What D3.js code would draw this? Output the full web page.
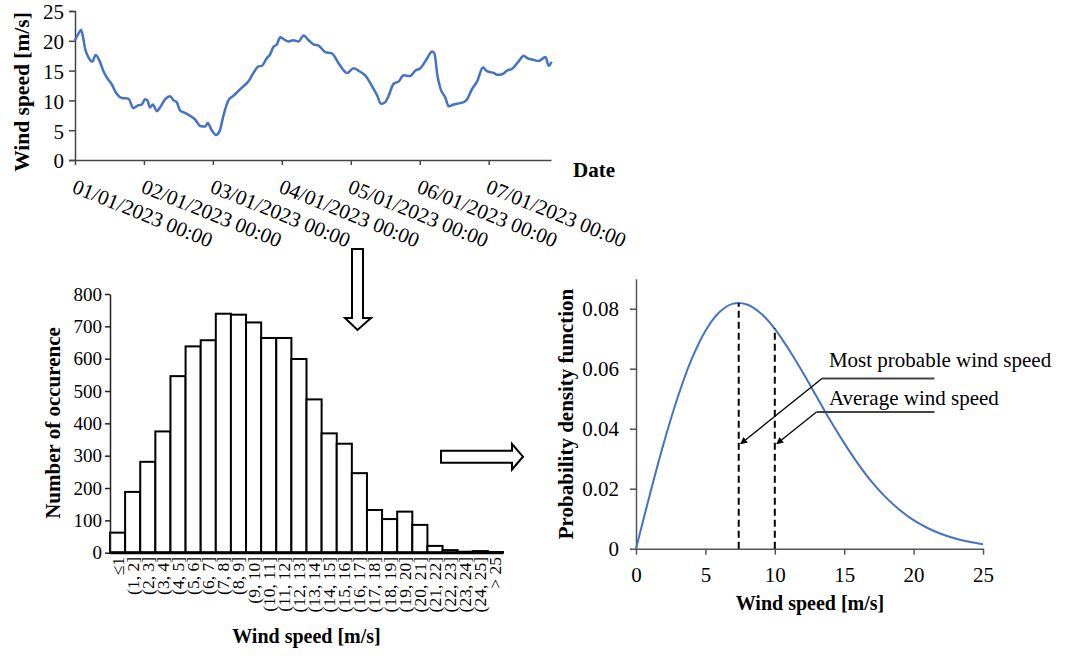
<!DOCTYPE html>
<html>
<head>
<meta charset="utf-8">
<script src="https://cdnjs.cloudflare.com/ajax/libs/d3/7.8.5/d3.min.js"></script>
<style>
body { margin: 0; background: #fff; }
svg { display: block; font-family: "Liberation Serif", "Times New Roman", serif; }
</style>
</head>
<body>
<script>
// time series: hours after 01/01/2023 00:00 and wind speed [m/s]
var windHours = [0,1.2,2.1,2.7,3.5,4.6,6.0,7.2,8.4,9.9,11.0,12.8,14.5,16.3,18.6,20.3,22.1,23.2,24.4,25.2,
  26.1,27.1,28.5,29.6,31.4,33.1,34.3,35.4,36.6,38.3,40.7,41.8,43.6,45.3,46.2,47.6,49.1,50.3,51.7,53.4,
  55.2,56.9,58.7,60.4,62.1,63.9,65.0,66.8,67.9,69.1,70.3,71.4,72.6,74.3,76.1,77.8,79.6,81.3,83.0,84.8,
  87.1,89.4,91.8,94.7,97.0,99.3,101.0,103.4,105.1,106.6,108.0,109.2,110.9,112.7,114.4,116.7,118.5,120.2,122.5,124.3,
  125.1,126.2,127.2,128.9,130.1,131.8,133.6,135.3,136.5,138.2,140.0,142.0,143.4,145.8,146.9,148.7,150.4,152.2,154.5,156.2,
  157.4,159.7,161.4,163.8,164.9,165.9];
var windSpeed = [20.1,21.2,21.8,20.9,18.7,17.3,16.5,17.6,16.8,14.9,13.9,12.7,11.1,10.4,10.3,8.7,9.2,9.3,10.2,10.0,
  8.8,9.3,8.2,8.8,10.2,10.7,10.0,9.7,8.3,7.9,7.2,6.8,5.7,5.6,6.2,5.0,4.2,4.8,7.5,10.0,
  10.8,11.6,12.4,13.2,14.6,15.7,15.8,17.1,17.7,19.0,19.4,20.6,20.3,19.9,20.1,19.9,20.9,20.1,19.4,19.2,
  18.1,17.9,16.2,14.6,15.4,14.8,14.2,12.4,10.9,9.4,9.7,10.8,12.8,13.2,14.2,14.1,15.0,15.4,17.0,18.2,
  17.9,14.1,12.0,10.5,9.0,9.3,9.5,9.7,10.2,11.9,13.2,15.5,14.9,14.6,14.3,14.4,15.0,15.3,16.6,17.5,
  17.1,16.8,16.6,17.3,15.8,16.5];
var speedTicks = [0, 5, 10, 15, 20, 25];
var seriesEndHour = 165.7;

// histogram
var binLabels = ["\u22641","(1, 2]","(2, 3]","(3, 4]","(4, 5]","(5, 6]","(6, 7]","(7, 8]","(8, 9]","(9, 10]",
  "(10, 11]","(11, 12]","(12, 13]","(13, 14]","(14, 15]","(15, 16]","(16, 17]","(17, 18]","(18, 19]","(19, 20]",
  "(20, 21]","(21, 22]","(22, 23]","(23, 24]","(24, 25]","> 25"];
var binCounts = [62,188,281,375,546,638,657,739,736,712,664,664,599,474,369,337,246,132,104,127,86,21,8,3,5,2];
var countTicks = [0,100,200,300,400,500,600,700,800];

// probability density function
var pdfSpeed = [0,1,2,3,4,5,6,7,8,9,10,11,12,13,14,15,16,17,18,19,20,21,22,23,24,25];
var pdfValue = [0,0.0181,0.0352,0.0504,0.0631,0.0726,0.0788,0.0817,0.0814,0.0784,0.0733,0.0665,0.0589,
  0.0508,0.0427,0.0352,0.0283,0.0222,0.0171,0.0129,0.0095,0.0069,0.0049,0.0034,0.0023,0.0015];
var pdfXTicks = [0, 5, 10, 15, 20, 25];
var pdfYTicks = [0, 0.02, 0.04, 0.06, 0.08];
var markSpeed = [7.4, 10];
var markTop = [0.0818, 0.0735];
var markLabels = ["Most probable wind speed", "Average wind speed"];

var svg = d3.select("body").append("svg")
    .attr("width", 1077)
    .attr("height", 661);

var defs = svg.append("defs");
defs.append("marker")
    .attr("id", "tip")
    .attr("viewBox", "0 0 10 10")
    .attr("refX", 9).attr("refY", 5)
    .attr("markerWidth", 7).attr("markerHeight", 7)
    .attr("markerUnits", "userSpaceOnUse")
    .attr("orient", "auto")
  .append("path")
    .attr("d", "M0,0 L10,5 L0,10 Z")
    .attr("fill", "#000");

function styleAxis(g, color, size) {
  g.select(".domain").attr("stroke", color).attr("stroke-width", 1.5);
  g.selectAll(".tick line").attr("stroke", color).attr("stroke-width", 1.5);
  g.selectAll(".tick text").attr("fill", "#000").style("font-size", size + "px")
    .style("font-family", '"Liberation Serif", serif');
}

// ---------- top: wind speed time series ----------
var base = new Date(2023, 0, 1, 0, 0);
var toDate = function(h) { return new Date(base.getTime() + h * 3600000); };

var xTime = d3.scaleTime()
    .domain([base, toDate(seriesEndHour)])
    .range([75, 551]);
var yWind = d3.scaleLinear().domain([0, 25]).range([160, 11]);

var series = svg.append("g");

var yAxisTop = series.append("g")
    .attr("transform", "translate(75,0)")
    .call(d3.axisLeft(yWind).tickValues(speedTicks).tickSize(6).tickPadding(5));
styleAxis(yAxisTop, "#444", 21);
yAxisTop.selectAll(".tick text").attr("dy", "0.38em");

var dayTicks = d3.timeDay.range(base, toDate(seriesEndHour + 1));
var xAxisTop = series.append("g")
    .attr("transform", "translate(0,160)")
    .call(d3.axisBottom(xTime).tickValues(dayTicks).tickSize(5).tickSizeOuter(0).tickFormat(""));
styleAxis(xAxisTop, "#444", 20);

var formatDay = d3.timeFormat("%d/%m/%Y %H:%M");
series.append("g").selectAll("text")
    .data(dayTicks)
    .enter().append("text")
    .attr("transform", function(d) { return "translate(" + (xTime(d) - 4) + ",192)rotate(22)"; })
    .style("font-size", "21px")
    .text(function(d) { return formatDay(d); });

var windLine = d3.line()
    .x(function(d, i) { return xTime(toDate(windHours[i])); })
    .y(function(d) { return yWind(d); })
    .curve(d3.curveMonotoneX);

series.append("path")
    .datum(windSpeed)
    .attr("fill", "none")
    .attr("stroke", "#4472C4")
    .attr("stroke-width", 2.5)
    .attr("stroke-linejoin", "round")
    .attr("d", windLine);

series.append("text")
    .attr("transform", "translate(29,92)rotate(-90)")
    .attr("text-anchor", "middle")
    .style("font-size", "21.5px")
    .style("font-weight", "bold")
    .text("Wind speed [m/s]");

series.append("text")
    .attr("x", 573).attr("y", 177)
    .style("font-size", "21px")
    .style("font-weight", "bold")
    .text("Date");

// ---------- block arrows ----------
svg.append("path")
    .attr("d", "M352,249 H363 V318 H371 L357.5,330 L345,318 H352 Z")
    .attr("fill", "#fff").attr("stroke", "#000").attr("stroke-width", 2);
svg.append("path")
    .attr("d", "M441,450.7 H512 V444 L523,456.7 L512,469.5 V462.7 H441 Z")
    .attr("fill", "#fff").attr("stroke", "#000").attr("stroke-width", 2);

// ---------- histogram ----------
var xBin = d3.scaleBand().domain(binLabels).range([110, 503]).padding(0);
var yCount = d3.scaleLinear().domain([0, 800]).range([552.7, 294]);

var hist = svg.append("g");

hist.selectAll("rect")
    .data(binCounts)
    .enter().append("rect")
    .attr("x", function(d, i) { return xBin(binLabels[i]); })
    .attr("width", xBin.bandwidth())
    .attr("y", function(d) { return yCount(d); })
    .attr("height", function(d) { return yCount(0) - yCount(d); })
    .attr("fill", "#fff")
    .attr("stroke", "#000")
    .attr("stroke-width", 2);

var yAxisHist = hist.append("g")
    .attr("transform", "translate(110,0)")
    .call(d3.axisLeft(yCount).tickValues(countTicks).tickSize(5).tickPadding(3).tickSizeOuter(0));
styleAxis(yAxisHist, "#222", 19);

hist.append("line")
    .attr("x1", 110).attr("x2", 503)
    .attr("y1", yCount(0)).attr("y2", yCount(0))
    .attr("stroke", "#000").attr("stroke-width", 3);

hist.append("g").selectAll("text")
    .data(binLabels)
    .enter().append("text")
    .attr("transform", function(d) { return "translate(" + (xBin(d) + xBin.bandwidth() / 2) + ",557)rotate(-90)"; })
    .attr("text-anchor", "end")
    .attr("dy", "0.34em")
    .style("font-size", "17.5px")
    .text(function(d) { return d; });

hist.append("text")
    .attr("x", 306.5).attr("y", 643)
    .attr("text-anchor", "middle")
    .style("font-size", "20px")
    .style("font-weight", "bold")
    .text("Wind speed [m/s]");

hist.append("text")
    .attr("transform", "translate(60,423)rotate(-90)")
    .attr("text-anchor", "middle")
    .style("font-size", "21px")
    .style("font-weight", "bold")
    .text("Number of occurence");

// ---------- probability density ----------
var xPdf = d3.scaleLinear().domain([0, 25]).range([636, 983]);
var yPdf = d3.scaleLinear().domain([0, 0.09]).range([548.7, 278.7]);

var pdf = svg.append("g");

var yAxisPdf = pdf.append("g")
    .attr("transform", "translate(636,0)")
    .call(d3.axisLeft(yPdf).tickValues(pdfYTicks).tickSize(6).tickPadding(11).tickSizeOuter(0)
      .tickFormat(function(d) { return d === 0 ? "0" : d3.format(".2f")(d); }));
styleAxis(yAxisPdf, "#555", 21);
yAxisPdf.selectAll(".tick text").attr("dy", "0.33em");

var xAxisPdf = pdf.append("g")
    .attr("transform", "translate(0,548.7)")
    .call(d3.axisBottom(xPdf).tickValues(pdfXTicks).tickSize(6).tickPadding(12).tickSizeOuter(0));
styleAxis(xAxisPdf, "#555", 21);

var pdfLine = d3.line()
    .x(function(d, i) { return xPdf(pdfSpeed[i]); })
    .y(function(d) { return yPdf(d); })
    .curve(d3.curveCatmullRom.alpha(0.5));

pdf.append("path")
    .datum(pdfValue)
    .attr("fill", "none")
    .attr("stroke", "#4472C4")
    .attr("stroke-width", 2)
    .attr("d", pdfLine);

pdf.selectAll(".mark")
    .data(markSpeed)
    .enter().append("line")
    .attr("class", "mark")
    .attr("x1", function(d) { return xPdf(d); })
    .attr("x2", function(d) { return xPdf(d); })
    .attr("y1", yPdf(0))
    .attr("y2", function(d, i) { return yPdf(markTop[i]); })
    .attr("stroke", "#000")
    .attr("stroke-width", 2)
    .attr("stroke-dasharray", "7,4");

// leaders: elbow speed/density, label baseline density
var elbowX = [13.4, 13.0], elbowY = [0.0567, 0.0456], labelY = [0.0606, 0.0479];
var tipY = 0.035;

markLabels.forEach(function(label, i) {
  pdf.append("line")
      .attr("x1", xPdf(21.5)).attr("x2", xPdf(elbowX[i]))
      .attr("y1", yPdf(elbowY[i])).attr("y2", yPdf(elbowY[i]))
      .attr("stroke", "#444").attr("stroke-width", 2);
  pdf.append("line")
      .attr("x1", xPdf(elbowX[i])).attr("y1", yPdf(elbowY[i]))
      .attr("x2", xPdf(markSpeed[i]) + 2).attr("y2", yPdf(tipY))
      .attr("stroke", "#000").attr("stroke-width", 1.3)
      .attr("marker-end", "url(#tip)");
  pdf.append("text")
      .attr("x", xPdf(13.9)).attr("y", yPdf(labelY[i]))
      .style("font-size", "21px")
      .text(label);
});

pdf.append("text")
    .attr("x", 810).attr("y", 610)
    .attr("text-anchor", "middle")
    .style("font-size", "20px")
    .style("font-weight", "bold")
    .text("Wind speed [m/s]");

pdf.append("text")
    .attr("transform", "translate(573,414)rotate(-90)")
    .attr("text-anchor", "middle")
    .style("font-size", "21px")
    .style("font-weight", "bold")
    .text("Probability density function");
</script>
</body>
</html>
